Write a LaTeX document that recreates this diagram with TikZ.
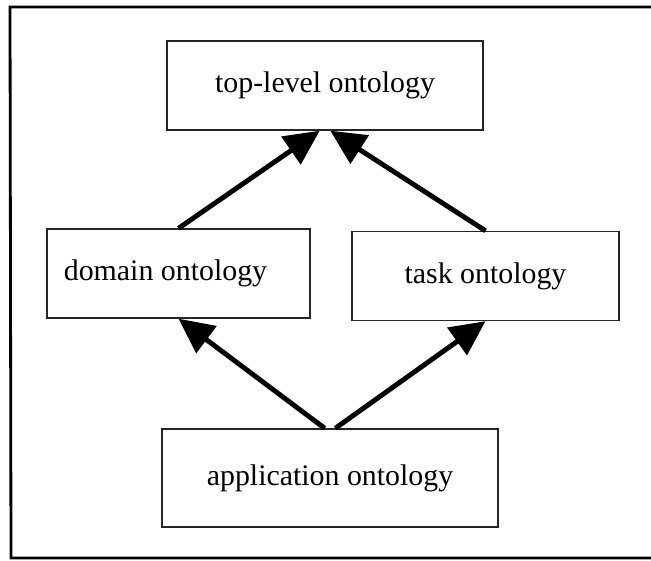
\documentclass[tikz,border=0pt]{standalone}
\usepackage{fontspec}
\setmainfont{Liberation Serif}
\usepackage{tikz}
\usetikzlibrary{arrows.meta}
\usetikzlibrary{calc}

\begin{document}
\begin{tikzpicture}[x=0.02cm,y=-0.02cm]
\tikzstyle{ontobox} = [draw=black!85, line width=0.8pt, inner sep=0pt, minimum height=1.78cm, font=\fontsize{17}{20}\selectfont]
\tikzstyle{isa} = [line width=2.8pt, -{Triangle[length=0.7cm,width=0.66cm]}]
\useasboundingbox (0,0) rectangle (651,560);
\draw[line width=1.6pt] (651,7) -- (10,7) -- (11,558) -- (651,558);

\node[ontobox, minimum width=6.32cm] (top) at (325,85.5) {top-level ontology};
\node[ontobox, minimum width=5.26cm] (domain) at (178.5,273.5) {domain ontology\hspace*{0.52cm}};
\node[ontobox, minimum width=5.34cm] (task) at (485.5,276) {task ontology};
\node[ontobox, minimum width=6.72cm, minimum height=1.96cm] (application) at (330,478) {application ontology};

\draw[isa] (domain.north) -- ([xshift=-3]top.south);
\draw[isa] (task.north) -- ([xshift=3]top.south);
\draw[isa] ([xshift=-3]application.north) -- (domain.south);
\draw[isa] ([xshift=3]application.north) -- (task.south);
\end{tikzpicture}
\end{document}
